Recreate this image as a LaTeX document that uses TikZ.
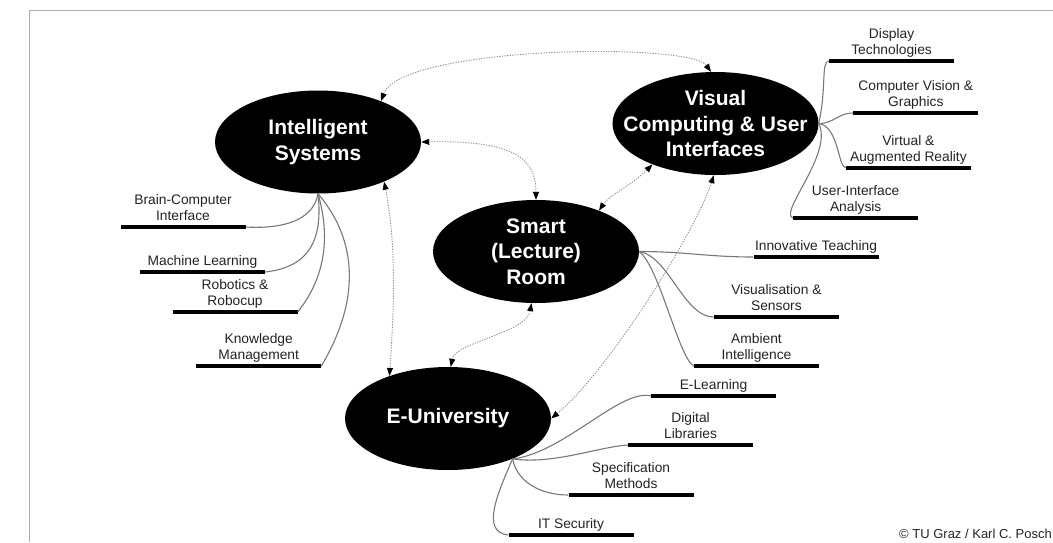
\documentclass[tikz,border=0pt]{standalone}
\usepackage{fontspec}
\setmainfont{Liberation Sans}
\usetikzlibrary{shapes.geometric,arrows.meta}

\definecolor{framegray}{RGB}{175,175,175}
\definecolor{branchgray}{RGB}{120,120,120}
\definecolor{linkgray}{RGB}{145,145,145}
\definecolor{textgray}{RGB}{35,35,35}

\begin{document}
\begin{tikzpicture}[x=1pt,y=-1pt]
                \tikzstyle{topic}=[ellipse, fill=black, inner sep=0pt, minimum width=206pt, minimum height=103pt]
                \tikzstyle{title}=[text=white, font=\fontsize{21}{25.5}\selectfont\bfseries, align=center]
                \tikzstyle{leaf}=[text=textgray, font=\fontsize{13.8}{16}\selectfont, align=center, inner sep=0pt, text depth=0pt, yshift=4pt]
                \tikzstyle{bar}=[fill=black, inner sep=0pt, minimum width=125pt, minimum height=4pt]
                \tikzstyle{branch}=[draw=branchgray, line width=1.1pt]
                \tikzstyle{link}=[draw=linkgray, line width=0.9pt, dash pattern=on 1.3pt off 1.3pt,
                        {Triangle[length=8pt,width=6pt,color=black]}-{Triangle[length=8pt,width=6pt,color=black]}]

                \useasboundingbox (0,0) rectangle (1053,542);
                \draw[framegray, line width=1pt] (29,542) -- (29,10) -- (1053,10);

                \node[topic, label={[title]center:Intelligent\\Systems}] (is) at (318,142) {};
                \node[topic, label={[title]center:Visual\\Computing \& User\\Interfaces}] (vc) at (715.5,123.5) {};
                \node[topic, label={[title]center:Smart\\(Lecture)\\Room}] (sr) at (536,251.5) {};
                \node[topic, label={[title]center:E-University}] (eu) at (448,418.5) {};

                \node[bar, label={[leaf]above:Brain-Computer\\Interface}] (bci) at (183,227) {};
                \node[bar, label={[leaf]above:Machine Learning}] (ml) at (202.5,272) {};
                \node[bar, label={[leaf]above:Robotics \&\\Robocup}] (rr) at (235,312) {};
                \node[bar, label={[leaf]above:Knowledge\\Management}] (km) at (258.7,366) {};

                \node[bar, label={[leaf]above:Display\\Technologies}] (dt) at (891.6,61) {};
                \node[bar, label={[leaf]above:Computer Vision \&\\Graphics}] (cv) at (915.8,113) {};
                \node[bar, label={[leaf]above:Virtual \&\\Augmented Reality}] (vr) at (908.4,168) {};
                \node[bar, label={[leaf]above:User-Interface\\Analysis}] (ui) at (855.7,218) {};

                \node[bar, label={[leaf]above:Innovative Teaching}] (inn) at (816,257) {};
                \node[bar, label={[leaf]above:Visualisation \&\\Sensors}] (vs) at (776.4,317) {};
                \node[bar, label={[leaf]above:Ambient\\Intelligence}] (ai) at (756.5,366) {};

                \node[bar, label={[leaf]above:E-Learning}] (el) at (713.5,396) {};
                \node[bar, label={[leaf]above:Digital\\Libraries}] (dl) at (690.6,445) {};
                \node[bar, label={[leaf]above:Specification\\Methods}] (sm) at (631,495) {};
                \node[bar, label={[leaf]above:IT Security}] (sec) at (571,535) {};

                \node[anchor=east, inner sep=0pt, text=textgray, font=\fontsize{13}{15}\selectfont] (copy) at (1052,534) {© TU Graz / Karl C. Posch};

                \draw[branch] (is.south) .. controls +(-5,28) and +(35,2) .. (bci.east);
                \draw[branch] (is.south) .. controls +(5,45) and +(45,-5) .. (ml.east);
                \draw[branch] (is.south) .. controls +(16,55) and +(20,-25) .. (rr.east);
                \draw[branch] (is.south) .. controls +(40,47) and +(39,-66) .. (km.east);

                \draw[branch] (vc.east) .. controls +(8,-35) and +(-8,0) .. (dt.west);
                \draw[branch] (vc.east) .. controls +(15,0) and +(-15,0) .. (cv.west);
                \draw[branch] (vc.east) .. controls +(20,3) and +(-8,-2) .. (vr.west);
                \draw[branch] (vc.east) .. controls +(15,30) and +(-15,-5) .. (ui.west);

                \draw[branch] (sr.east) .. controls +(45,0) and +(-45,0) .. (inn.west);
                \draw[branch] (sr.east) .. controls +(30,5) and +(-30,0) .. (vs.west);
                \draw[branch] (sr.east) .. controls +(20,15) and +(-15,-8) .. (ai.west);

                \draw[branch] (eu.-32) .. controls +(50,-5) and +(-30,-8) .. (el.west);
                \draw[branch] (eu.-32) .. controls +(40,6) and +(-30,2) .. (dl.west);
                \draw[branch] (eu.-32) .. controls +(5,25) and +(-25,0) .. (sm.west);
                \draw[branch] (eu.-32) .. controls +(-15,35) and +(-28,-3) .. (sec.west);

                \draw[link] (is.33) .. controls +(20,-55) and +(-21,-30) .. (vc.95);
                \draw[link] (is.east) .. controls +(95,-2) and +(0,-40) .. (sr.north);
                \draw[link] (is.-31) .. controls +(12,60) and +(5,-70) .. (eu.144);
                \draw[link] (sr.-95) .. controls +(-5,30) and +(5,-25) .. (eu.87);
                \draw[link] (vc.-147) .. controls +(-20,20) and +(10,-15) .. (sr.33);
                \draw[link] (vc.-92) .. controls +(-15,50) and +(60,-50) .. (eu.east);
            \end{tikzpicture}
\end{document}
